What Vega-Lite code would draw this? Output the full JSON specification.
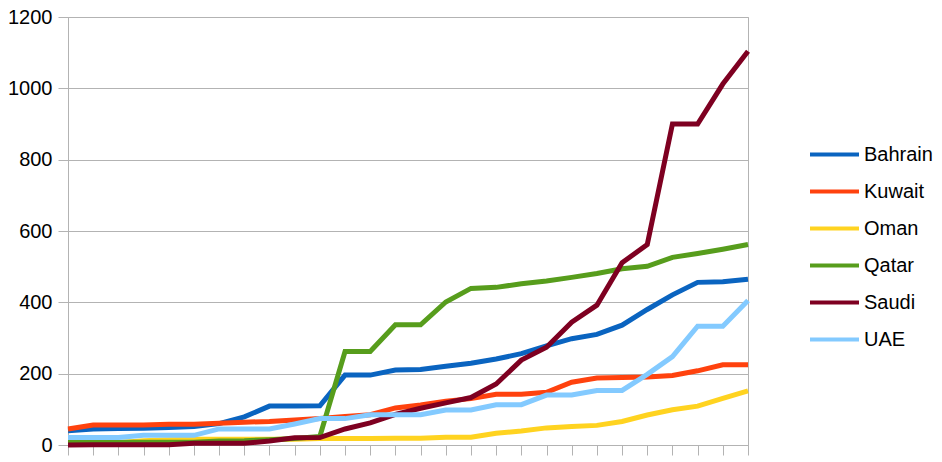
{
  "$schema": "https://vega.github.io/schema/vega-lite/v6.json",
  "width": 680,
  "height": 428,
  "autosize": {"type": "none"},
  "padding": {"left": 68, "top": 17, "right": 194, "bottom": 17},
  "background": "white",
  "config": {
    "font": "Liberation Sans",
    "view": {"stroke": "#b3b3b3", "strokeWidth": 1}
  },
  "data": {
    "values": [
      {"d": 0, "Bahrain": 40, "Kuwait": 45, "Oman": 6, "Qatar": 7, "Saudi": 0, "UAE": 21},
      {"d": 1, "Bahrain": 45, "Kuwait": 56, "Oman": 6, "Qatar": 8, "Saudi": 1, "UAE": 21},
      {"d": 2, "Bahrain": 46, "Kuwait": 56, "Oman": 6, "Qatar": 8, "Saudi": 1, "UAE": 21},
      {"d": 3, "Bahrain": 47, "Kuwait": 56, "Oman": 12, "Qatar": 8, "Saudi": 1, "UAE": 27},
      {"d": 4, "Bahrain": 49, "Kuwait": 58, "Oman": 15, "Qatar": 8, "Saudi": 1, "UAE": 27},
      {"d": 5, "Bahrain": 52, "Kuwait": 58, "Oman": 16, "Qatar": 8, "Saudi": 5, "UAE": 27},
      {"d": 6, "Bahrain": 60, "Kuwait": 61, "Oman": 16, "Qatar": 11, "Saudi": 5, "UAE": 45},
      {"d": 7, "Bahrain": 79, "Kuwait": 64, "Oman": 16, "Qatar": 12, "Saudi": 5, "UAE": 45},
      {"d": 8, "Bahrain": 109, "Kuwait": 66, "Oman": 16, "Qatar": 15, "Saudi": 11, "UAE": 45},
      {"d": 9, "Bahrain": 109, "Kuwait": 70, "Oman": 16, "Qatar": 18, "Saudi": 20, "UAE": 59},
      {"d": 10, "Bahrain": 110, "Kuwait": 74, "Oman": 18, "Qatar": 24, "Saudi": 21, "UAE": 74},
      {"d": 11, "Bahrain": 196, "Kuwait": 80, "Oman": 18, "Qatar": 262, "Saudi": 45, "UAE": 74},
      {"d": 12, "Bahrain": 196, "Kuwait": 85, "Oman": 18, "Qatar": 262, "Saudi": 62, "UAE": 85},
      {"d": 13, "Bahrain": 210, "Kuwait": 104, "Oman": 19, "Qatar": 337, "Saudi": 86, "UAE": 85},
      {"d": 14, "Bahrain": 212, "Kuwait": 112, "Oman": 19, "Qatar": 337, "Saudi": 103, "UAE": 85},
      {"d": 15, "Bahrain": 221, "Kuwait": 123, "Oman": 22, "Qatar": 401, "Saudi": 118, "UAE": 98},
      {"d": 16, "Bahrain": 229, "Kuwait": 130, "Oman": 22, "Qatar": 439, "Saudi": 133, "UAE": 98},
      {"d": 17, "Bahrain": 241, "Kuwait": 142, "Oman": 33, "Qatar": 442, "Saudi": 171, "UAE": 113},
      {"d": 18, "Bahrain": 256, "Kuwait": 142, "Oman": 39, "Qatar": 452, "Saudi": 238, "UAE": 113},
      {"d": 19, "Bahrain": 278, "Kuwait": 148, "Oman": 48, "Qatar": 460, "Saudi": 274, "UAE": 140},
      {"d": 20, "Bahrain": 298, "Kuwait": 176, "Oman": 52, "Qatar": 470, "Saudi": 344, "UAE": 140},
      {"d": 21, "Bahrain": 310, "Kuwait": 188, "Oman": 55, "Qatar": 481, "Saudi": 392, "UAE": 153},
      {"d": 22, "Bahrain": 336, "Kuwait": 189, "Oman": 66, "Qatar": 494, "Saudi": 511, "UAE": 153},
      {"d": 23, "Bahrain": 380, "Kuwait": 191, "Oman": 84, "Qatar": 501, "Saudi": 562, "UAE": 198},
      {"d": 24, "Bahrain": 421, "Kuwait": 195, "Oman": 99, "Qatar": 526, "Saudi": 900, "UAE": 248},
      {"d": 25, "Bahrain": 456, "Kuwait": 208, "Oman": 109, "Qatar": 537, "Saudi": 900, "UAE": 333},
      {"d": 26, "Bahrain": 458, "Kuwait": 225, "Oman": 131, "Qatar": 549, "Saudi": 1012, "UAE": 333},
      {"d": 27, "Bahrain": 465, "Kuwait": 225, "Oman": 152, "Qatar": 562, "Saudi": 1104, "UAE": 405}
    ]
  },
  "transform": [
    {"fold": ["Bahrain", "Kuwait", "Oman", "Qatar", "Saudi", "UAE"], "as": ["country", "cases"]}
  ],
  "mark": {"type": "line", "strokeWidth": 5, "strokeJoin": "miter", "strokeCap": "butt"},
  "encoding": {
    "x": {
      "field": "d",
      "type": "ordinal",
      "scale": {"type": "point", "padding": 0},
      "axis": {
        "title": null,
        "labels": false,
        "grid": false,
        "domainColor": "#b3b3b3",
        "tickColor": "#b3b3b3",
        "tickSize": 10
      }
    },
    "y": {
      "field": "cases",
      "type": "quantitative",
      "scale": {"domain": [0, 1200], "nice": false},
      "axis": {
        "title": null,
        "values": [0, 200, 400, 600, 800, 1000, 1200],
        "format": "d",
        "gridColor": "#b3b3b3",
        "domainColor": "#b3b3b3",
        "tickColor": "#b3b3b3",
        "tickSize": 10,
        "labelFontSize": 20,
        "labelColor": "#000000",
        "labelPadding": 6
      }
    },
    "color": {
      "field": "country",
      "type": "nominal",
      "scale": {
        "domain": ["Bahrain", "Kuwait", "Oman", "Qatar", "Saudi", "UAE"],
        "range": ["#0a64c0", "#ff420e", "#ffd320", "#579d1c", "#7e0021", "#83caff"]
      },
      "legend": {
        "title": null,
        "orient": "none",
        "legendX": 740,
        "legendY": 111,
        "symbolType": "stroke",
        "symbolSize": 2401,
        "symbolStrokeWidth": 4,
        "labelFontSize": 20,
        "labelColor": "#000000",
        "labelOffset": 3,
        "rowPadding": -3.4
      }
    }
  }
}
